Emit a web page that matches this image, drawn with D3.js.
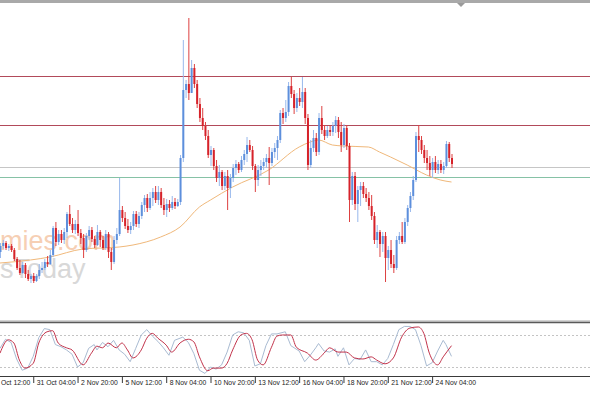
<!DOCTYPE html>
<html>
<head>
<meta charset="utf-8">
<script src="https://cdn.jsdelivr.net/npm/d3@7"></script>
<style>
  body { margin: 0; background: #fff; }
  svg { display: block; }
</style>
</head>
<body>
<div id="chart"></div>
<script>
// 4H candles, oldest first
var opens = [
  1.1586, 1.1592, 1.1595, 1.1590, 1.1592, 1.1588, 1.1579, 1.1570, 1.1565, 1.1573,
  1.1564, 1.1559, 1.1562, 1.1557, 1.1562, 1.1568, 1.1570, 1.1576, 1.1574, 1.1583,
  1.1610, 1.1596, 1.1604, 1.1598, 1.1606, 1.1624, 1.1614, 1.1608, 1.1614, 1.1605,
  1.1600, 1.1588, 1.1602, 1.1608, 1.1599, 1.1593, 1.1606, 1.1598, 1.1590, 1.1604,
  1.1586, 1.1576, 1.1598, 1.1604, 1.1628, 1.1620, 1.1612, 1.1608, 1.1612, 1.1624,
  1.1614, 1.1622, 1.1633, 1.1640, 1.1630, 1.1640, 1.1646, 1.1638, 1.1646, 1.1633,
  1.1628, 1.1634, 1.1630, 1.1636, 1.1632, 1.1636, 1.1680, 1.1748, 1.1754, 1.1745,
  1.1770, 1.1754, 1.1734, 1.1720, 1.1712, 1.1702, 1.1683, 1.1688, 1.1672, 1.1660,
  1.1666, 1.1652, 1.1662, 1.1650, 1.1660, 1.1670, 1.1674, 1.1668, 1.1678, 1.1684,
  1.1693, 1.1688, 1.1672, 1.1658, 1.1668, 1.1672, 1.1676, 1.1680, 1.1675, 1.1686,
  1.1690, 1.1698, 1.1725, 1.1720, 1.1726, 1.1752, 1.1744, 1.1730, 1.1740, 1.1736,
  1.1746, 1.1720, 1.1673, 1.1690, 1.1700, 1.1686, 1.1720, 1.1708, 1.1702, 1.1708,
  1.1706, 1.1712, 1.1718, 1.1706, 1.1693, 1.1710, 1.1692, 1.1638, 1.1662, 1.1634,
  1.1648, 1.1652, 1.1644, 1.1640, 1.1632, 1.1622, 1.1598, 1.1606, 1.1594, 1.1602,
  1.1580, 1.1588, 1.1574, 1.1570, 1.1598, 1.1602, 1.1596, 1.1616, 1.1630, 1.1642,
  1.1658, 1.1702, 1.1698, 1.1688, 1.1680, 1.1675, 1.1668, 1.1676, 1.1668, 1.1674,
  1.1668, 1.1672, 1.1694, 1.1680
]
var highs = [
  1.1595, 1.1598, 1.1597, 1.1594, 1.1594, 1.1590, 1.1581, 1.1578, 1.1576, 1.1575,
  1.1568, 1.1564, 1.1565, 1.1564, 1.1574, 1.1576, 1.1579, 1.1582, 1.1588, 1.1612,
  1.1616, 1.1608, 1.1608, 1.1610, 1.1626, 1.1633, 1.1620, 1.1618, 1.1628, 1.1609,
  1.1604, 1.1605, 1.1612, 1.1611, 1.1602, 1.1613, 1.1608, 1.1602, 1.1608, 1.1606,
  1.1590, 1.1602, 1.1610, 1.1660, 1.1632, 1.1626, 1.1619, 1.1616, 1.1627, 1.1627,
  1.1626, 1.1636, 1.1643, 1.1644, 1.1646, 1.1650, 1.1652, 1.1652, 1.1650, 1.1640,
  1.1639, 1.1638, 1.1642, 1.1640, 1.1639, 1.1683, 1.1798, 1.1758, 1.1820, 1.1778,
  1.1774, 1.1758, 1.1740, 1.1730, 1.1716, 1.1708, 1.1692, 1.1690, 1.1678, 1.1673,
  1.1668, 1.1666, 1.1668, 1.1664, 1.1674, 1.1678, 1.1676, 1.1682, 1.1688, 1.1701,
  1.1698, 1.1692, 1.1674, 1.1673, 1.1678, 1.1680, 1.1684, 1.1691, 1.1690, 1.1695,
  1.1702, 1.1728, 1.1730, 1.1738, 1.1756, 1.1761, 1.1748, 1.1745, 1.1750, 1.1761,
  1.1750, 1.1724, 1.1698, 1.1708, 1.1705, 1.1725, 1.1732, 1.1713, 1.1712, 1.1712,
  1.1716, 1.1722, 1.1721, 1.1716, 1.1714, 1.1713, 1.1695, 1.1666, 1.1666, 1.1652,
  1.1656, 1.1656, 1.1650, 1.1646, 1.1643, 1.1626, 1.1613, 1.1608, 1.1606, 1.1606,
  1.1592, 1.1598, 1.1583, 1.1602, 1.1606, 1.1616, 1.1620, 1.1633, 1.1646, 1.1662,
  1.1706, 1.1713, 1.1702, 1.1693, 1.1688, 1.1682, 1.1680, 1.1682, 1.1678, 1.1678,
  1.1676, 1.1697, 1.1696, 1.1684
]
var lows = [
  1.1580, 1.1589, 1.1588, 1.1587, 1.1586, 1.1577, 1.1568, 1.1563, 1.1564, 1.1560,
  1.1557, 1.1555, 1.1555, 1.1556, 1.1559, 1.1565, 1.1568, 1.1571, 1.1573, 1.1581,
  1.1592, 1.1593, 1.1595, 1.1594, 1.1600, 1.1612, 1.1605, 1.1604, 1.1602, 1.1594,
  1.1580, 1.1586, 1.1598, 1.1596, 1.1590, 1.1592, 1.1591, 1.1588, 1.1588, 1.1580,
  1.1568, 1.1574, 1.1594, 1.1602, 1.1616, 1.1609, 1.1605, 1.1604, 1.1608, 1.1611,
  1.1610, 1.1619, 1.1626, 1.1626, 1.1628, 1.1632, 1.1635, 1.1633, 1.1630, 1.1623,
  1.1621, 1.1626, 1.1628, 1.1629, 1.1631, 1.1633, 1.1676, 1.1740, 1.1738, 1.1746,
  1.1750, 1.1730, 1.1716, 1.1708, 1.1698, 1.1680, 1.1672, 1.1668, 1.1656, 1.1652,
  1.1648, 1.1648, 1.1628, 1.1640, 1.1656, 1.1663, 1.1665, 1.1666, 1.1673, 1.1676,
  1.1686, 1.1668, 1.1646, 1.1652, 1.1662, 1.1668, 1.1670, 1.1653, 1.1672, 1.1680,
  1.1678, 1.1695, 1.1714, 1.1716, 1.1722, 1.1740, 1.1724, 1.1726, 1.1732, 1.1730,
  1.1714, 1.1668, 1.1670, 1.1686, 1.1682, 1.1683, 1.1704, 1.1698, 1.1700, 1.1702,
  1.1702, 1.1705, 1.1700, 1.1686, 1.1690, 1.1688, 1.1616, 1.1633, 1.1628, 1.1616,
  1.1632, 1.1640, 1.1636, 1.1628, 1.1618, 1.1594, 1.1590, 1.1581, 1.1586, 1.1556,
  1.1568, 1.1570, 1.1565, 1.1568, 1.1594, 1.1594, 1.1594, 1.1612, 1.1626, 1.1638,
  1.1656, 1.1686, 1.1684, 1.1675, 1.1668, 1.1662, 1.1660, 1.1665, 1.1664, 1.1665,
  1.1664, 1.1670, 1.1676, 1.1670
]
var closes = [
  1.1592, 1.1595, 1.1590, 1.1592, 1.1588, 1.1579, 1.1570, 1.1565, 1.1573, 1.1564,
  1.1559, 1.1562, 1.1557, 1.1562, 1.1568, 1.1570, 1.1576, 1.1574, 1.1583, 1.1610,
  1.1596, 1.1604, 1.1598, 1.1606, 1.1624, 1.1614, 1.1608, 1.1614, 1.1605, 1.1600,
  1.1588, 1.1602, 1.1608, 1.1599, 1.1593, 1.1606, 1.1598, 1.1590, 1.1604, 1.1586,
  1.1576, 1.1598, 1.1604, 1.1628, 1.1620, 1.1612, 1.1608, 1.1612, 1.1624, 1.1614,
  1.1622, 1.1633, 1.1640, 1.1630, 1.1640, 1.1646, 1.1638, 1.1646, 1.1633, 1.1628,
  1.1634, 1.1630, 1.1636, 1.1632, 1.1636, 1.1680, 1.1748, 1.1754, 1.1745, 1.1770,
  1.1754, 1.1734, 1.1720, 1.1712, 1.1702, 1.1683, 1.1688, 1.1672, 1.1660, 1.1666,
  1.1652, 1.1662, 1.1650, 1.1660, 1.1670, 1.1674, 1.1668, 1.1678, 1.1684, 1.1693,
  1.1688, 1.1672, 1.1658, 1.1668, 1.1672, 1.1676, 1.1680, 1.1675, 1.1686, 1.1690,
  1.1698, 1.1725, 1.1720, 1.1726, 1.1752, 1.1744, 1.1730, 1.1740, 1.1736, 1.1746,
  1.1720, 1.1673, 1.1690, 1.1700, 1.1686, 1.1720, 1.1708, 1.1702, 1.1708, 1.1706,
  1.1712, 1.1718, 1.1706, 1.1693, 1.1710, 1.1692, 1.1638, 1.1662, 1.1634, 1.1648,
  1.1652, 1.1644, 1.1640, 1.1632, 1.1622, 1.1598, 1.1606, 1.1594, 1.1602, 1.1580,
  1.1588, 1.1574, 1.1570, 1.1598, 1.1602, 1.1596, 1.1616, 1.1630, 1.1642, 1.1658,
  1.1702, 1.1698, 1.1688, 1.1680, 1.1675, 1.1668, 1.1676, 1.1668, 1.1674, 1.1668,
  1.1672, 1.1694, 1.1680, 1.1674
]

// moving average, read at a few bars
var maBars = [0, 11, 18, 30, 43, 48, 58, 65, 72, 76, 84, 97, 108, 112, 115, 120, 124, 133, 137, 141, 147, 154, 159, 163]
var maValues = [1.1575, 1.1578, 1.1581, 1.1589, 1.1591, 1.1593, 1.1601, 1.1611, 1.1631, 1.1638, 1.1651, 1.1668,
  1.1691, 1.1696, 1.1698, 1.1693, 1.1692, 1.1691, 1.1686, 1.1681, 1.1673, 1.1663, 1.1658, 1.1656]

// horizontal levels drawn on the price pane
var levels = [1.1762, 1.1713, 1.1671, 1.1661]

// stochastic oscillator
var kBars = [0, 2, 4, 6, 8, 10, 12, 14, 16, 18, 20, 22, 24, 26, 28, 30, 32, 34, 35, 37, 39, 41, 43, 45, 47, 49,
  51, 53, 55, 57, 59, 61, 63, 66, 68, 70, 72, 74, 76, 78, 80, 82, 84, 86, 88, 90, 92, 94, 96, 98, 100, 103, 105,
  108, 110, 112, 114, 115, 117, 119, 121, 122, 124, 126, 128, 130, 132, 134, 136, 138, 140, 142, 144, 146, 148,
  150, 152, 154, 156, 158, 160, 161, 163]
var kValues = [55, 72, 66, 35, 14, 18, 40, 75, 92, 90, 62, 58, 52, 44, 20, 28, 55, 62, 52, 66, 58, 70, 52, 44, 30, 55,
  80, 90, 78, 68, 56, 42, 70, 76, 66, 45, 14, 8, 20, 16, 24, 48, 80, 86, 84, 70, 22, 26, 60, 82, 82, 86, 60,
  50, 30, 42, 56, 64, 50, 48, 54, 40, 56, 24, 36, 34, 52, 30, 30, 24, 36, 62, 90, 96, 96,
  90, 60, 22, 28, 50, 70, 62, 40]
var dBars = [0, 3, 5, 7, 9, 12, 14, 17, 19, 21, 24, 26, 30, 33, 35, 37, 39, 42, 44, 46, 48, 51, 53, 55, 57, 60, 62,
  65, 68, 70, 72, 75, 77, 80, 82, 84, 87, 89, 91, 93, 95, 98, 100, 102, 105, 107, 111, 114, 117, 119, 122, 125,
  128, 131, 134, 136, 139, 142, 145, 148, 151, 153, 155, 158, 160, 163]
var dValues = [46, 71, 65, 33, 18, 27, 65, 86, 88, 65, 56, 52, 24, 46, 59, 56, 65, 56, 65, 52, 37, 52, 74, 83, 74, 61, 48,
  65, 72, 67, 39, 13, 18, 18, 27, 52, 80, 83, 71, 33, 24, 57, 78, 80, 80, 57, 46, 33, 46, 56, 48, 48,
  37, 35, 39, 33, 26, 37, 76, 93, 95, 83, 46, 24, 39, 60]
var oscLevels = [80, 20]

// time axis labels, every 16 bars (the first one is only partly on screen)
var tickBars = [-4, 12, 28, 44, 60, 76, 92, 108, 124, 140, 156]
var tickLabels = ['Oct 12:00', '31 Oct 04:00', '2 Nov 20:00', '5 Nov 12:00', '8 Nov 04:00', '10 Nov 20:00',
  '13 Nov 12:00', '16 Nov 04:00', '18 Nov 20:00', '21 Nov 12:00', '24 Nov 04:00']

var width = 590
var height = 393

var svg = d3.select('#chart').append('svg')
  .attr('width', width)
  .attr('height', height)
  .style('font-family', '"Liberation Sans", Arial, sans-serif')

var x = d3.scaleLinear().domain([0, 163]).range([0, 451.5])
var y = d3.scaleLinear().domain([1.1520, 1.1835]).range([318, 3])
var yOsc = d3.scaleLinear().domain([0, 100]).range([377.7, 324.3])

svg.append('clipPath').attr('id', 'mainClip')
  .append('rect').attr('x', 0).attr('y', 3).attr('width', width).attr('height', 317)
svg.append('clipPath').attr('id', 'oscClip')
  .append('rect').attr('x', 0).attr('y', 324).attr('width', width).attr('height', 52)

// top frame and shift marker
svg.append('rect').attr('x', 0).attr('y', 0).attr('width', width).attr('height', 3).attr('fill', '#a9a9a9')
svg.append('path').attr('d', 'M457,3 L465,3 L461,7 Z').attr('fill', '#9a9a9a')

// watermark behind the candles
var main = svg.append('g').attr('clip-path', 'url(#mainClip)')
main.append('text')
  .attr('x', 0).attr('y', 250)
  .attr('font-size', 27)
  .attr('fill', '#f6cfb4')
  .text('mies.com')
main.append('text')
  .attr('x', 0).attr('y', 278)
  .attr('font-size', 27)
  .attr('fill', '#d8d8d8')
  .text('sToday')

// horizontal levels
var levelColors = ['#b24a5a', '#b24a5a', '#c6c6c6', '#86c2a6']
main.selectAll('.level')
  .data(levels)
  .enter()
  .append('line')
  .attr('class', 'level')
  .attr('x1', 0).attr('x2', width)
  .attr('y1', function (d) { return Math.round(y(d)) + 0.5 })
  .attr('y2', function (d) { return Math.round(y(d)) + 0.5 })
  .attr('stroke', function (d, i) { return levelColors[i] })
  .attr('stroke-width', 1)

// moving average
var maLine = d3.line()
  .x(function (d, i) { return x(maBars[i]) })
  .y(function (d) { return y(d) })
  .curve(d3.curveMonotoneX)
main.append('path')
  .attr('d', maLine(maValues))
  .attr('fill', 'none')
  .attr('stroke', '#f0b87a')
  .attr('stroke-width', 1)

// candles
var candles = main.selectAll('.candle')
  .data(d3.range(closes.length))
  .enter()
  .append('g')
  .attr('class', 'candle')

function isUp (i) { return closes[i] >= opens[i] }

candles.append('line')
  .attr('x1', function (i) { return x(i) + 0.5 })
  .attr('x2', function (i) { return x(i) + 0.5 })
  .attr('y1', function (i) { return y(highs[i]) })
  .attr('y2', function (i) { return y(lows[i]) })
  .attr('stroke', function (i) { return isUp(i) ? '#98b8ec' : '#dd4040' })
  .attr('stroke-width', 1)

candles.append('rect')
  .attr('x', function (i) { return x(i) - 0.5 })
  .attr('width', 2)
  .attr('y', function (i) { return y(Math.max(opens[i], closes[i])) })
  .attr('height', function (i) { return Math.max(1, Math.abs(y(opens[i]) - y(closes[i]))) })
  .attr('fill', function (i) { return isUp(i) ? '#5d8fdc' : '#d6222a' })

// separator between the panes
svg.append('rect').attr('x', 0).attr('y', 320).attr('width', width).attr('height', 2).attr('fill', '#d4d4d4')
svg.append('line').attr('x1', 0).attr('x2', width).attr('y1', 322.5).attr('y2', 322.5)
  .attr('stroke', '#5a5a5a').attr('stroke-width', 1.5)

// oscillator pane
var osc = svg.append('g').attr('clip-path', 'url(#oscClip)')
osc.selectAll('.oscLevel')
  .data(oscLevels)
  .enter()
  .append('line')
  .attr('class', 'oscLevel')
  .attr('x1', 0).attr('x2', width)
  .attr('y1', function (d) { return Math.round(yOsc(d)) + 0.5 })
  .attr('y2', function (d) { return Math.round(yOsc(d)) + 0.5 })
  .attr('stroke', '#c4c4c4')
  .attr('stroke-dasharray', '2,2')

var kLine = d3.line()
  .x(function (d, i) { return x(kBars[i]) })
  .y(function (d) { return yOsc(d) })
var dLine = d3.line()
  .x(function (d, i) { return x(dBars[i]) })
  .y(function (d) { return yOsc(d) })
  .curve(d3.curveMonotoneX)

osc.append('path')
  .attr('d', kLine(kValues))
  .attr('fill', 'none')
  .attr('stroke', '#a9bbd2')
  .attr('stroke-width', 1)
osc.append('path')
  .attr('d', dLine(dValues))
  .attr('fill', 'none')
  .attr('stroke', '#c2334b')
  .attr('stroke-width', 1)

// time axis
svg.append('line').attr('x1', 0).attr('x2', width).attr('y1', 376.5).attr('y2', 376.5)
  .attr('stroke', '#3a3a3a').attr('stroke-width', 1)

var xAxis = d3.axisBottom(x)
  .tickValues(tickBars)
  .tickFormat(function (d, i) { return tickLabels[i] })
  .tickSize(6)
  .tickSizeOuter(0)

var axisG = svg.append('g')
  .attr('transform', 'translate(0,377)')
  .call(xAxis)
axisG.select('.domain').remove()
axisG.selectAll('.tick line').attr('stroke', '#3a3a3a')
axisG.selectAll('.tick text')
  .attr('text-anchor', 'start')
  .attr('x', function (d, i) { return i === 0 ? 11.5 : 3 })
  .attr('y', 3)
  .attr('dy', '0.71em')
  .attr('font-size', 6.8)
  .attr('font-family', '"Liberation Sans", Arial, sans-serif')
  .attr('fill', '#222')
</script>
</body>
</html>
